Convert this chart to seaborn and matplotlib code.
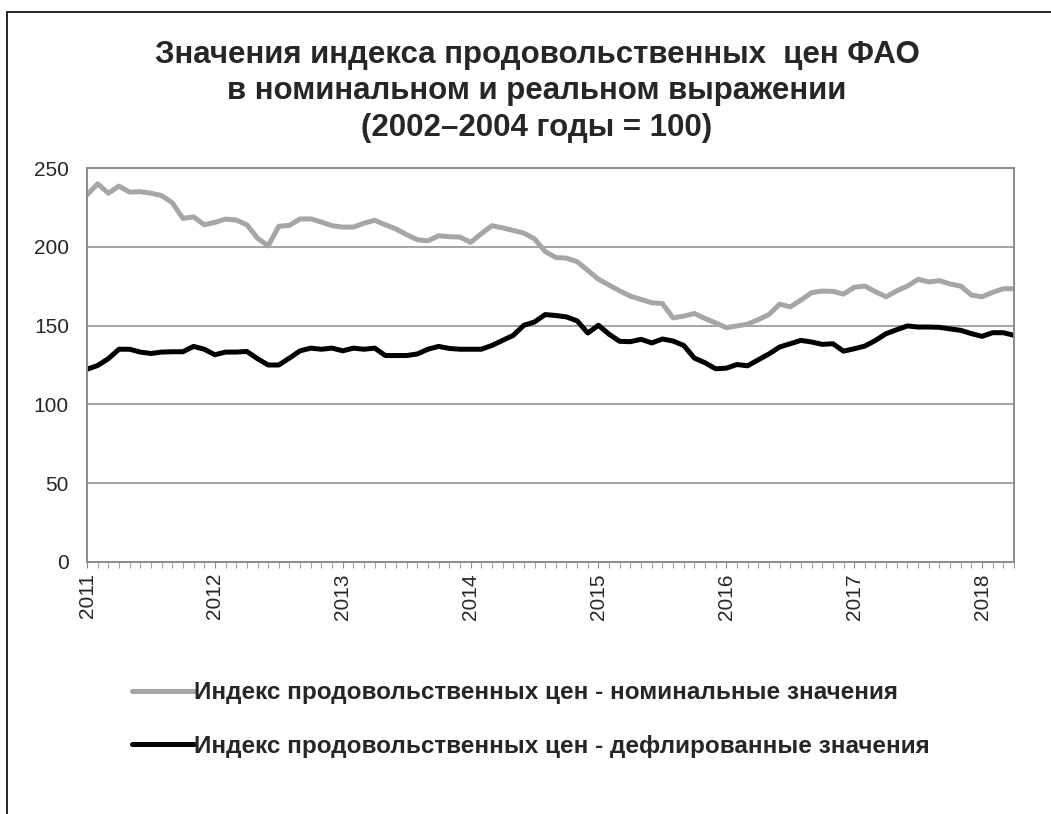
import pandas as pd
import seaborn as sns
import matplotlib.pyplot as plt
from matplotlib.lines import Line2D

# monthly values, Jan 2011 - Apr 2018
years = ['2011', '2012', '2013', '2014', '2015', '2016', '2017', '2018']

nominal = [233, 240, 234, 238.5, 234.7, 235, 234, 232.5, 228, 218, 219, 214,
           215.5, 217.6, 217, 214, 205.5, 200.6, 213, 213.6, 217.7, 217.7, 215.7, 213.4,
           212.5, 212.5, 215, 216.8, 214, 211.3, 207.7, 204.5, 203.8, 207, 206.4, 206.2,
           202.8, 208.3, 213.4, 212, 210.4, 208.7, 205, 197, 193.2, 192.8, 190.6, 185,
           179.4, 175.7, 172, 168.7, 166.6, 164.5, 164, 154.9, 156, 157.7, 154.5, 151.7,
           148.7, 149.8, 150.9, 153.8, 157, 163.6, 161.9, 166.2, 170.9, 171.9, 171.7, 170,
           174.3, 175.1, 171.5, 168.3, 172.1, 175.1, 179.4, 177.7, 178.5, 176.4, 175.1, 169.4,
           168.3, 171.1, 173.4, 173.4]

deflated = [122.3, 124.7, 129, 135, 135, 133.2, 132.3, 133.2, 133.4, 133.4, 136.8, 135,
            131.5, 133.2, 133.2, 133.6, 129, 125, 125, 129.4, 134, 135.7, 135, 135.7,
            134, 135.7, 135, 135.7, 131, 131, 131, 132, 135, 136.8, 135.5, 135,
            135, 135, 137.4, 140.6, 143.8, 150.2, 152.3, 157, 156.4, 155.5, 153, 145.3,
            150.2, 144.5, 140, 139.8, 141.3, 139, 141.5, 140.2, 137.4, 129.4, 126.4, 122.6,
            123, 125.3, 124.5, 128.3, 132, 136.4, 138.5, 140.6, 139.6, 138.1, 138.5, 133.8,
            135.3, 137, 140.6, 144.9, 147.4, 149.8, 149.1, 149.1, 148.9, 147.9, 147, 144.9,
            143.2, 145.5, 145.5, 143.8]

lbl_nom = 'Индекс продовольственных цен - номинальные значения'
lbl_def = 'Индекс продовольственных цен - дефлированные значения'

sns.set_style('white')
plt.rcParams['font.family'] = ['Liberation Sans', 'DejaVu Sans']

n = len(nominal)
df = pd.DataFrame({
    'month': list(range(n)) * 2,
    'value': nominal + deflated,
    'series': [lbl_nom] * n + [lbl_def] * n,
})

fig = plt.figure(figsize=(10.51, 8.14), dpi=100)
ax = fig.add_axes([0.0828, 0.3096, 0.8820, 0.4840])

sns.lineplot(data=df, x='month', y='value', hue='series',
             palette={lbl_nom: '#a6a6a6', lbl_def: '#000000'},
             linewidth=3.6, legend=False, ax=ax)

ax.set_xlim(0, n - 1)
ax.set_ylim(0, 250)
ax.set_yticks([0, 50, 100, 150, 200, 250])
ax.grid(axis='y', color='#8c8c8c', linewidth=1.1)
ax.set_axisbelow(True)
for s in ax.spines.values():
    s.set_color('#8c8c8c')
    s.set_linewidth(1.4)

ax.set_xticks(range(n), minor=True)
ax.set_xticks(range(0, n, 12))
ax.set_xticklabels(years, rotation=90)
ax.tick_params(axis='x', which='both', direction='out', length=4, color='#8c8c8c',
               bottom=True, labelsize=15, pad=4)
ax.tick_params(axis='y', length=0, labelsize=15, pad=13)
ax.set_xlabel('')
ax.set_ylabel('')

fig.text(0.511, 0.951, 'Значения индекса продовольственных  цен ФАО\n'
         'в номинальном и реальном выражении\n(2002–2004 годы = 100)',
         ha='center', va='top', fontsize=22.5, fontweight='bold', linespacing=1.28)

handles = [Line2D([], [], color='#a6a6a6', lw=3.6),
           Line2D([], [], color='#000000', lw=3.6)]
fig.legend(handles, [lbl_nom, lbl_def], loc='upper left',
           bbox_to_anchor=(0.1145, 0.178), frameon=False, handlelength=2.55,
           handletextpad=0.0, labelspacing=1.25, borderpad=0,
           prop={'size': 17.5, 'weight': 'bold'})

# outer chart frame, cut at the right and bottom edges
fig.add_artist(plt.Rectangle((7 / 1051, -0.1), 1.2, 1 - 12 / 814 + 0.1,
                             transform=fig.transFigure, fill=False,
                             edgecolor='#000000', linewidth=1.2))

plt.savefig('out.png', dpi=100)
